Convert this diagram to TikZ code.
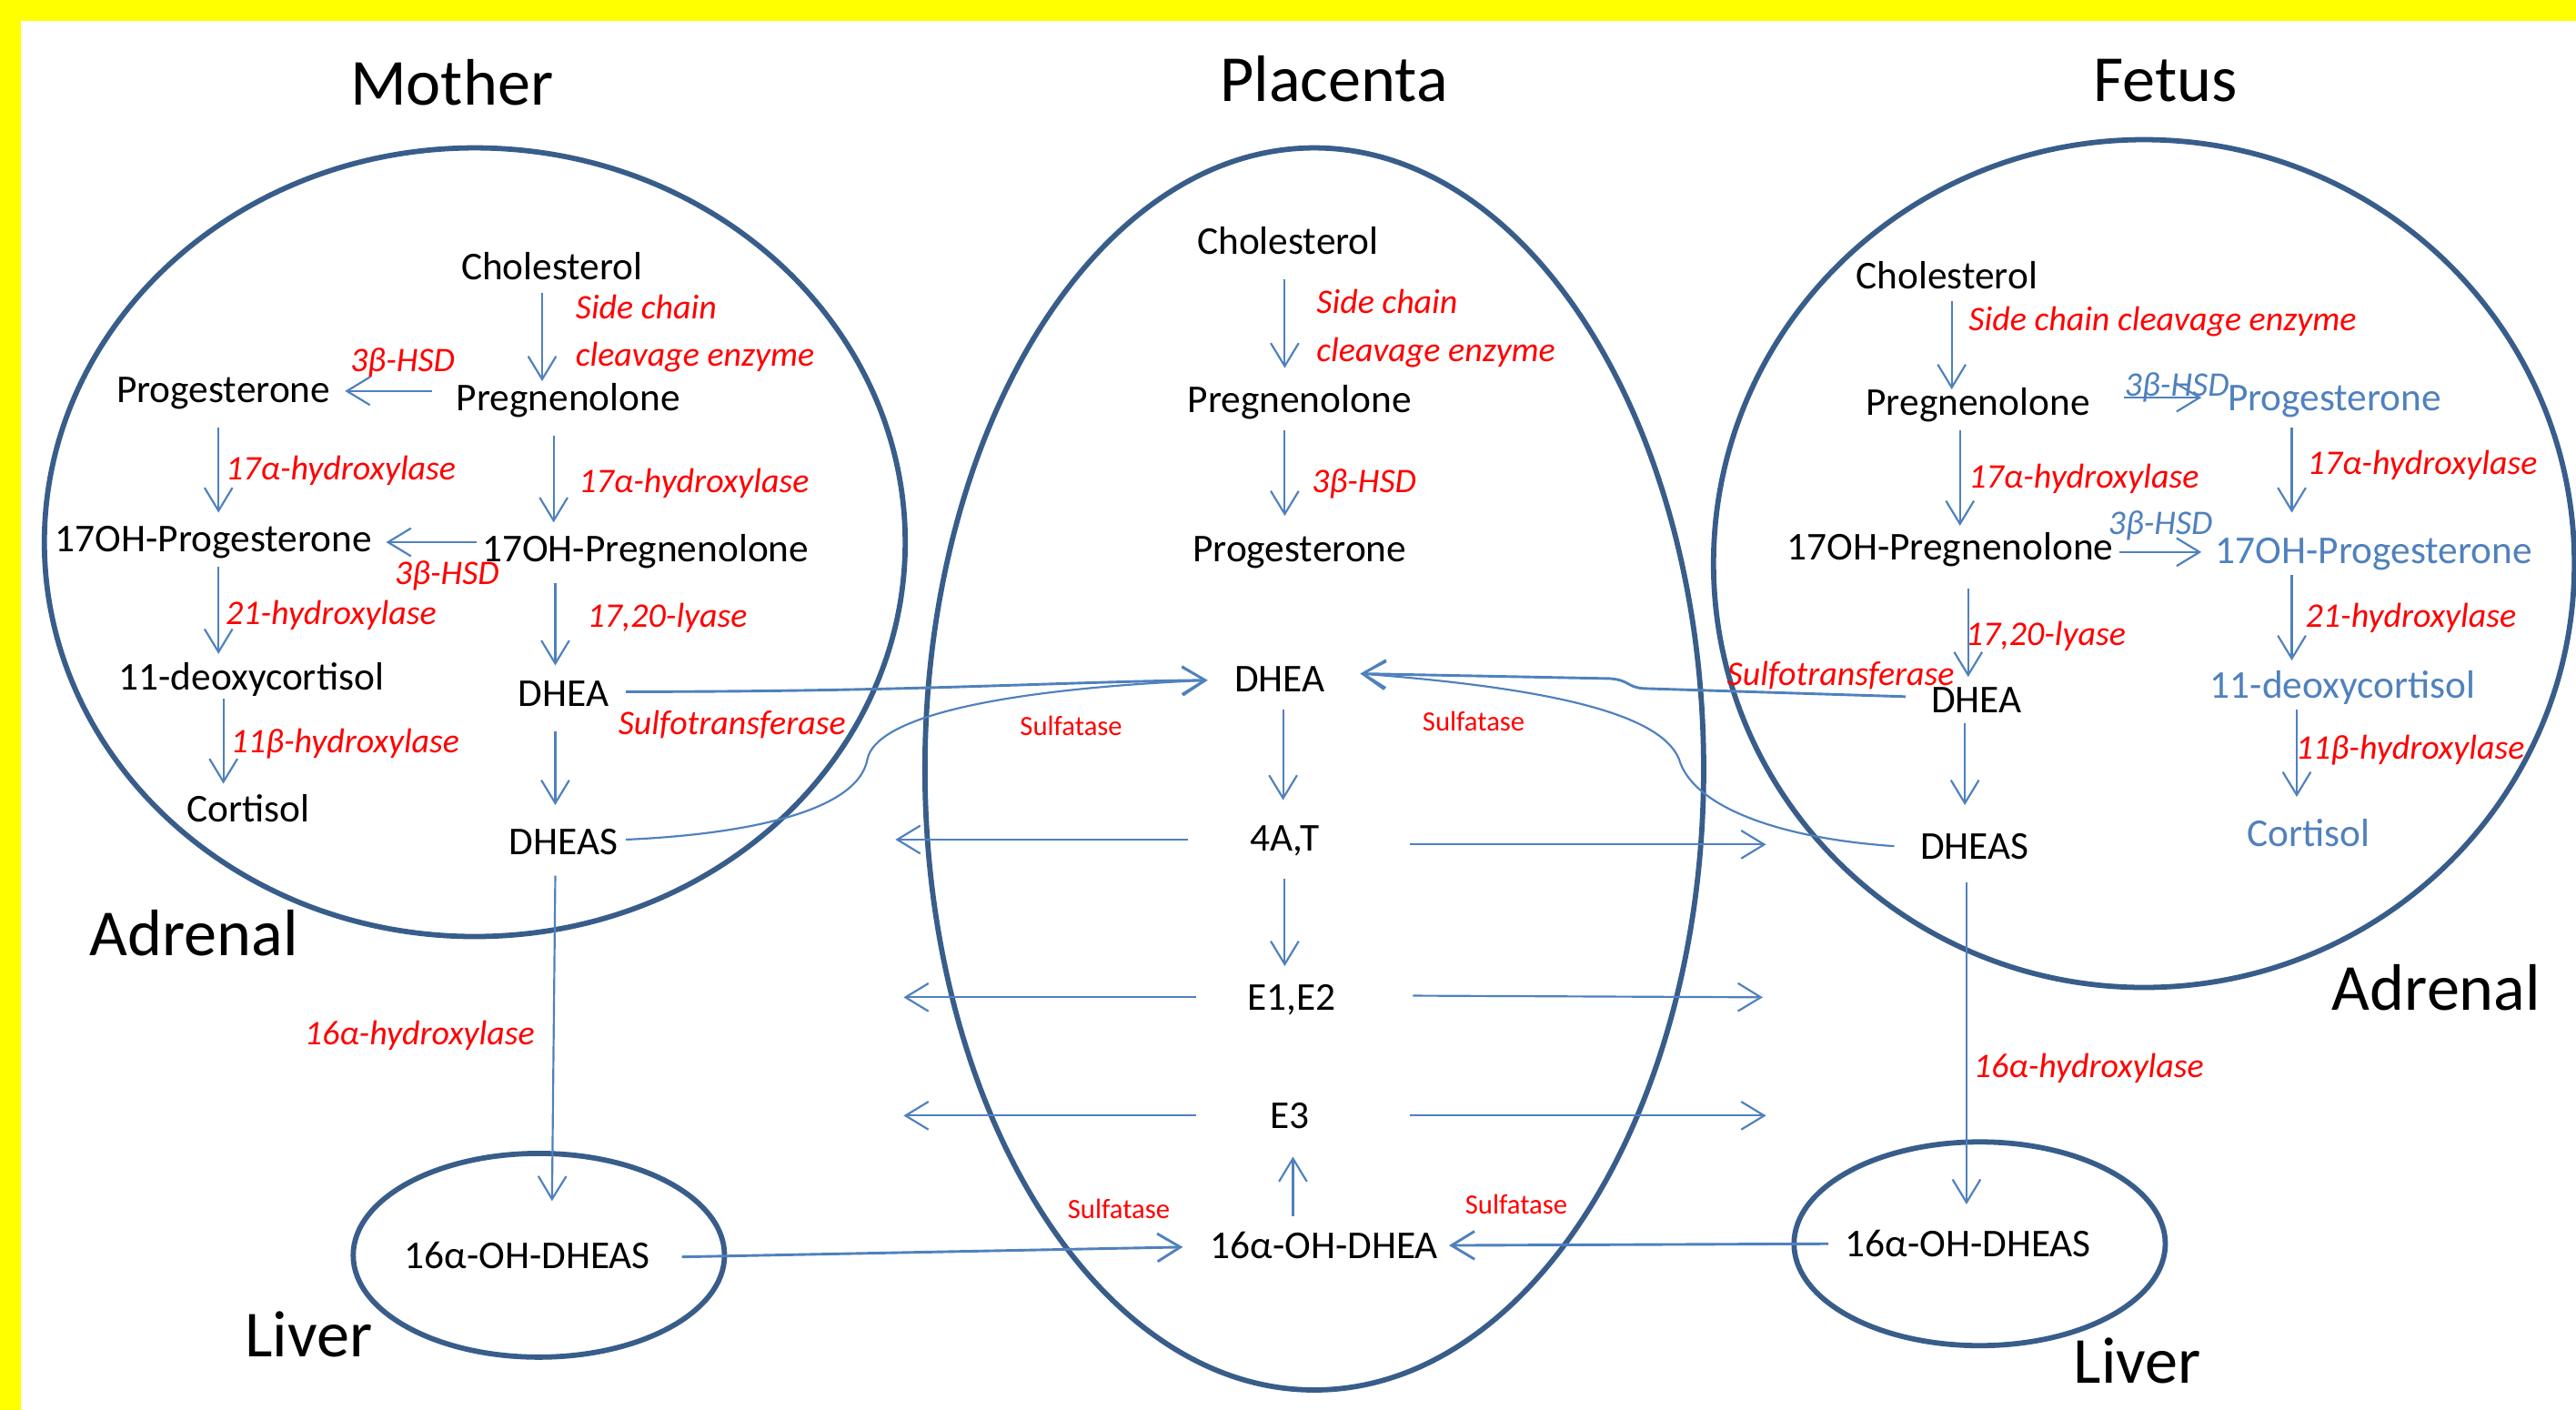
\documentclass[tikz,border=0pt]{standalone}
\usepackage{fontspec}
\setmainfont{Carlito}
\usetikzlibrary{arrows.meta,calc}
\definecolor{arrblue}{HTML}{4F81BD}
\definecolor{ringblue}{HTML}{385D8A}
\definecolor{lblred}{HTML}{FF0000}
\definecolor{bgyellow}{HTML}{FFFF00}
\begin{document}
\begin{tikzpicture}[x=0.5pt,y=-0.5pt,
  txt/.style={inner sep=0pt, font=\fontsize{12}{14}\selectfont, text height=10.5pt, text depth=2.5pt},
  btxt/.style={txt, text=arrblue},
  lbl/.style={inner sep=0pt, font=\fontsize{10.5}{12}\selectfont\itshape, text=lblred, text height=10.5pt, text depth=2.5pt},
  blbl/.style={lbl, text=arrblue},
  sulf/.style={inner sep=0pt, font=\fontsize{8.5}{10}\selectfont, text=lblred},
  title/.style={inner sep=0pt, font=\fontsize{20}{24}\selectfont},
  ring/.style={draw=ringblue, line width=1.6pt},
  arr/.style={draw=arrblue, line width=0.6pt, -{Straight Barb[length=7pt,width=8.5pt]}},
  tharr/.style={arr, line width=0.8pt},
]
% background and frame
\fill[bgyellow] (0,0) rectangle (1568,858);
\fill[white] (13,13) rectangle (1568,858);
\useasboundingbox (0,0) rectangle (1568,858);

% compartments
\draw[ring] (289,330) ellipse [x radius=262, y radius=240];
\draw[ring] (800,468) ellipse [x radius=237, y radius=378];
\draw[ring] (1305,343) ellipse [x radius=262, y radius=258];
\draw[ring] (328,764) ellipse [x radius=113, y radius=62];
\draw[ring] (1205,757) ellipse [x radius=113, y radius=62];

% titles
\node[title] (tmother) at (275,50) {Mother};
\node[title] (tplac) at (812,48) {Placenta};
\node[title] (tfetus) at (1318,49) {Fetus};
\node[title] (madr) at (118,568) {Adrenal};
\node[title] (mliv) at (188,812) {Liver};
\node[title] (fadr) at (1483,601) {Adrenal};
\node[title] (fliv) at (1301,828) {Liver};

% ---------- Mother ----------
\node[txt] (mchol) at (336,162) {Cholesterol};
\node[lbl,anchor=west] (msc1) at (350,186) {Side chain};
\node[lbl,anchor=west] (msc2) at (350,215) {cleavage enzyme};
\node[txt] (mpreg) at (346,242) {Pregnenolone};
\node[txt] (mprog) at (136,237) {Progesterone};
\node[lbl] (mhsd1) at (245,218) {3β-HSD};
\node[lbl,anchor=west] (mhyd1) at (137,284) {17α-hydroxylase};
\node[lbl,anchor=west] (mhyd2) at (352,292) {17α-hydroxylase};
\node[txt] (m17prog) at (130,328) {17OH-Progesterone};
\node[txt] (m17preg) at (393,334) {17OH-Pregnenolone};
\node[lbl] (mhsd2) at (272,348) {3β-HSD};
\node[lbl,anchor=west] (m21) at (137,372) {21-hydroxylase};
\node[lbl,anchor=west] (mlyase) at (357,374) {17,20-lyase};
\node[txt] (mdeox) at (153,412) {11-deoxycortisol};
\node[txt] (mdhea) at (343,422) {DHEA};
\node[lbl,anchor=west] (m11b) at (140,450) {11β-hydroxylase};
\node[lbl,anchor=west] (msulfo) at (376,439) {Sulfotransferase};
\node[txt] (mcort) at (151,492) {Cortisol};
\node[txt] (mdheas) at (343,512) {DHEAS};
\node[lbl,anchor=west] (m16h) at (185,628) {16α-hydroxylase};
\node[txt] (ml16) at (321,764) {16α-OH-DHEAS};

\draw[arr] ($(mchol)+(-6,16)$) -- ($(mpreg)+(-16,-10)$);
\draw[arr] ($(mpreg)+(-83,-4)$) -- ($(mprog)+(74,1)$);
\draw[arr] ($(mprog)+(-3,23)$) -- ($(m17prog)+(3,-16)$);
\draw[arr] ($(mpreg)+(-9,23)$) -- ($(m17preg)+(-56,-16)$);
\draw[arr] ($(m17preg)+(-103,-4)$) -- ($(m17prog)+(105,2)$);
\draw[arr] ($(m17prog)+(3,17)$) -- ($(mdeox)+(-20,-14)$);
\draw[arr] ($(m17preg)+(-55,21)$) -- ($(mdhea)+(-5,-17)$);
\draw[arr] ($(mdeox)+(-17,13)$) -- ($(mcort)+(-15,-15)$);
\draw[arr] ($(mdhea)+(-5,23)$) -- ($(mdheas)+(-5,-22)$);
\draw[arr] ($(mdheas)+(-5,21)$) -- ($(ml16)+(15,-33)$);

% ---------- Placenta ----------
\node[txt] (pchol) at (784,147) {Cholesterol};
\node[lbl,anchor=west] (psc1) at (801,183) {Side chain};
\node[lbl,anchor=west] (psc2) at (801,212) {cleavage enzyme};
\node[txt] (ppreg) at (791,243) {Pregnenolone};
\node[lbl,anchor=west] (phsd) at (798,292) {3β-HSD};
\node[txt] (pprog) at (791,334) {Progesterone};
\node[txt] (pdhea) at (779,413) {DHEA};
\node[txt] (p4at) at (782,510) {4A,T};
\node[txt] (pe12) at (786,607) {E1,E2};
\node[txt] (pe3) at (785,679) {E3};
\node[txt] (p16) at (806,758) {16α-OH-DHEA};
\node[sulf] (ps1) at (652,442) {Sulfatase};
\node[sulf] (ps2) at (897,439) {Sulfatase};
\node[sulf] (ps3) at (681,736) {Sulfatase};
\node[sulf] (ps4) at (923,733) {Sulfatase};

\coordinate (l4at) at (545,511);
\coordinate (r4at) at (1075,514);
\coordinate (l12) at (550,607);
\coordinate (r12) at (1073,607);
\coordinate (le3) at (550,679);
\coordinate (re3) at (1075,679);

\draw[arr] ($(pchol)+(-2,23)$) -- ($(ppreg)+(-9,-19)$);
\draw[arr] ($(ppreg)+(-9,19)$) -- ($(pprog)+(-9,-20)$);
\draw[arr] ($(pdhea)+(2,19)$) -- ($(p4at)+(-1,-23)$);
\draw[arr] ($(p4at)+(0,25)$) -- ($(pe12)+(-4,-19)$);
\draw[arr] ($(p16)+(-19,-18)$) -- ($(pe3)+(2,25)$);
\draw[arr] ($(p4at)+(-59,1)$) -- (l4at);
\draw[arr] ($(p4at)+(76,4)$) -- (r4at);
\draw[arr] ($(pe12)+(-58,0)$) -- (l12);
\draw[arr] ($(pe12)+(74,-1)$) -- (r12);
\draw[arr] ($(pe3)+(-57,0)$) -- (le3);
\draw[arr] ($(pe3)+(73,0)$) -- (re3);

% ---------- Fetus ----------
\node[txt] (fchol) at (1185,168) {Cholesterol};
\node[lbl,anchor=west] (fsc) at (1198,193) {Side chain cleavage enzyme};
\node[txt] (fpreg) at (1204,245) {Pregnenolone};
\node[blbl] (fhsd1) at (1325,233) {3β-HSD};
\node[btxt] (fprog) at (1421,242) {Progesterone};
\node[lbl,anchor=west] (fhyd1) at (1198,289) {17α-hydroxylase};
\node[lbl,anchor=west] (fhyd2) at (1404,281) {17α-hydroxylase};
\node[txt] (f17preg) at (1187,333) {17OH-Pregnenolone};
\node[blbl] (fhsd2) at (1315,317) {3β-HSD};
\node[btxt] (f17prog) at (1445,335) {17OH-Progesterone};
\node[lbl,anchor=west] (flyase) at (1196,385) {17,20-lyase};
\node[lbl,anchor=east] (fsulfo) at (1190,409) {Sulfotransferase};
\node[txt] (fdhea) at (1203,426) {DHEA};
\node[lbl,anchor=west] (f21) at (1403,374) {21-hydroxylase};
\node[btxt] (fdeox) at (1426,417) {11-deoxycortisol};
\node[lbl,anchor=west] (f11b) at (1397,454) {11β-hydroxylase};
\node[btxt] (fcort) at (1405,507) {Cortisol};
\node[txt] (fdheas) at (1202,515) {DHEAS};
\node[lbl,anchor=west] (f16h) at (1201,648) {16α-hydroxylase};
\node[txt] (fl16) at (1198,757) {16α-OH-DHEAS};

\draw[arr] ($(fchol)+(3,15)$) -- ($(fpreg)+(-16,-8)$);
\draw[arr] ($(fpreg)+(89,-3)$) -- ($(fprog)+(-81,0)$);
\draw[arr] ($(fpreg)+(-11,17)$) -- ($(f17preg)+(6,-13)$);
\draw[arr] ($(fprog)+(-26,18)$) -- ($(f17prog)+(-50,-23)$);
\draw[arr] ($(f17preg)+(103,3)$) -- ($(f17prog)+(-105,1)$);
\draw[arr] ($(f17preg)+(11,25)$) -- ($(fdhea)+(-5,-14)$);
\draw[arr] ($(f17prog)+(-50,15)$) -- ($(fdeox)+(-31,-15)$);
\draw[arr] ($(fdeox)+(-28,15)$) -- ($(fcort)+(-7,-22)$);
\draw[arr] ($(fdhea)+(-7,14)$) -- ($(fdheas)+(-6,-25)$);
\draw[arr] ($(fdheas)+(-5,22)$) -- ($(fl16)+(-1,-24)$);

% ---------- exchanges ----------
\draw[tharr] ($(mdhea)+(38,-1)$) .. controls (560,421) and (640,415) .. ($(pdhea)+(-44,1)$);
\draw[arr] ($(mdheas)+(38,-1)$) .. controls (450,508) and (522,495) .. (528,462)
   .. controls (533,438) and (600,420) .. ($(pdhea)+(-44,1)$);
\draw[tharr] ($(fdhea)+(-43,-2)$) -- (1000,419) .. controls (990,418) and (992,414) .. (980,413)
   -- ($(pdhea)+(49,-3)$);
\draw[arr] ($(fdheas)+(-49,0)$) .. controls (1080,510) and (1030,490) .. (1022,462)
   .. controls (1012,438) and (960,420) .. ($(pdhea)+(49,-3)$);
\draw[tharr] ($(ml16)+(94,1)$) -- ($(p16)+(-86,1)$);
\draw[tharr] ($(fl16)+(-85,0)$) -- ($(p16)+(76,0)$);
\end{tikzpicture}
\end{document}
